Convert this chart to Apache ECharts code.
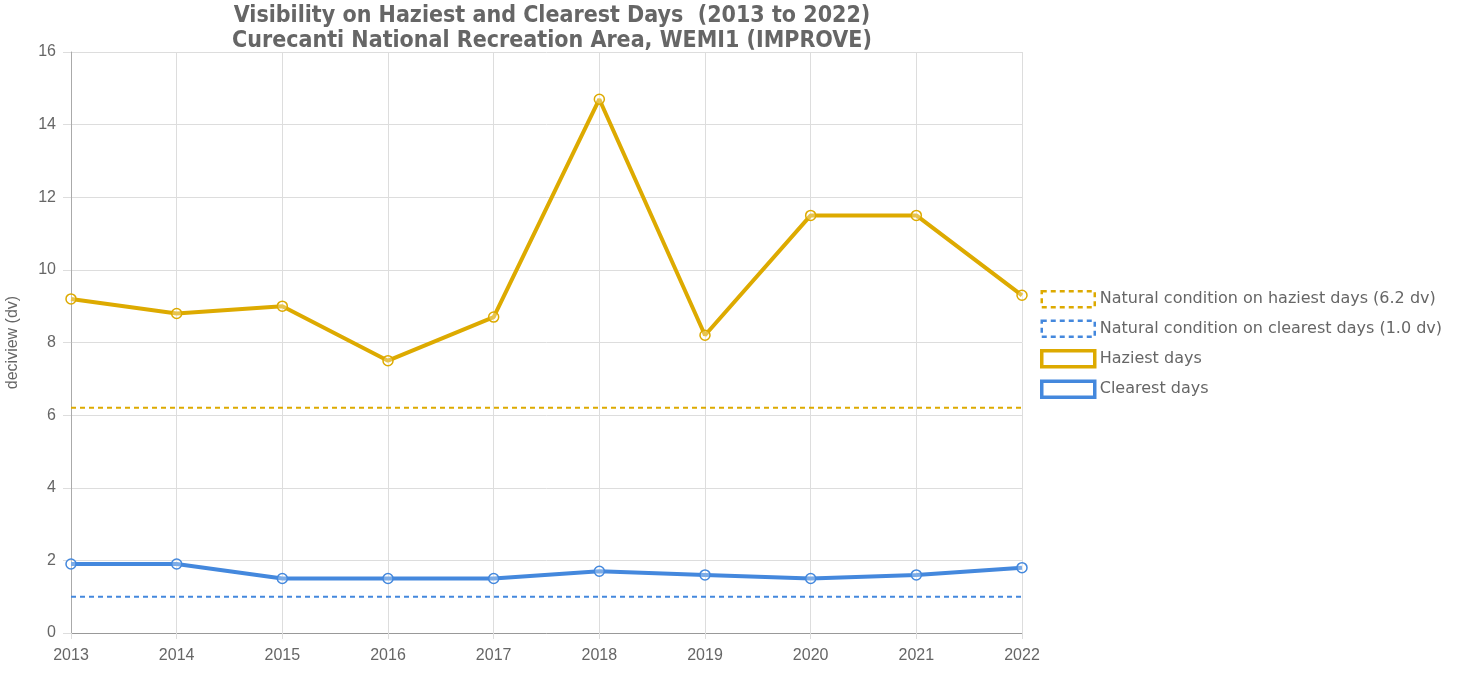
<!DOCTYPE html>
<html><head><meta charset="utf-8">
<script src="https://cdn.jsdelivr.net/npm/echarts@6/dist/echarts.min.js"></script>
<style>html,body{margin:0;padding:0;background:#fff}#c{width:1459px;height:675px}</style>
</head><body><div id="c"></div>
<script>
const years = ['2013','2014','2015','2016','2017','2018','2019','2020','2021','2022'];
const haziest = [9.2, 8.8, 9.0, 7.5, 8.7, 14.7, 8.2, 11.5, 11.5, 9.3];
const clearest = [1.9, 1.9, 1.5, 1.5, 1.5, 1.7, 1.6, 1.5, 1.6, 1.8];
const naturalHaziest = 6.2;
const naturalClearest = 1.0;
const yTicks = [0, 2, 4, 6, 8, 10, 12, 14, 16];

const gold = '#DDAA00';
const blue = '#4488DD';
const txt = '#666666';
const font = 'Liberation Sans, Arial, sans-serif';

const chart = echarts.init(document.getElementById('c'));
chart.setOption({
  animation: false,
  title: {
    text: 'Visibility on Haziest and Clearest Days  (2013 to 2022)\nCurecanti National Recreation Area, WEMI1 (IMPROVE)',
    left: 547, top: -1, textAlign: 'center',
    textStyle: { fontFamily: 'DejaVu Sans Condensed, Liberation Sans Narrow, sans-serif', fontWeight: 'bold', fontSize: 23, color: txt, lineHeight: 25 }
  },
  grid: { left: 71, right: 437, top: 52, bottom: 42, containLabel: false, outerBoundsMode: 'none' },
  legend: {
    orient: 'vertical', left: 1035, top: 285, itemGap: 11, itemWidth: 53, itemHeight: 16,
    textStyle: { fontFamily: 'DejaVu Sans, sans-serif', fontSize: 16, color: txt },
    data: [
      { name: 'Natural condition on haziest days (6.2 dv)', icon: 'rect', itemStyle: { color: '#fff', borderColor: gold, borderWidth: 2.5, borderType: [5, 4] } },
      { name: 'Natural condition on clearest days (1.0 dv)', icon: 'rect', itemStyle: { color: '#fff', borderColor: blue, borderWidth: 2.5, borderType: [5, 4] } },
      { name: 'Haziest days', icon: 'rect', itemStyle: { color: '#fff', borderColor: gold, borderWidth: 3.5 } },
      { name: 'Clearest days', icon: 'rect', itemStyle: { color: '#fff', borderColor: blue, borderWidth: 3.5 } }
    ]
  },
  xAxis: {
    type: 'category', data: years, boundaryGap: false,
    axisLine: { lineStyle: { color: '#999', width: 1 } },
    axisTick: { show: true, length: 6, lineStyle: { color: '#ddd' } },
    axisLabel: { fontFamily: font, fontSize: 16, color: txt, margin: 15 },
    splitLine: { show: true, lineStyle: { color: '#ddd' } }
  },
  yAxis: {
    type: 'value', min: yTicks[0], max: yTicks[yTicks.length - 1], interval: 2,
    name: 'deciview (dv)', nameLocation: 'middle', nameGap: 50, nameRotate: 90,
    nameTextStyle: { fontFamily: font, fontSize: 16, color: txt },
    axisLine: { show: true, lineStyle: { color: '#aaa' } },
    axisTick: { show: true, length: 8, lineStyle: { color: '#ddd' } },
    axisLabel: { fontFamily: font, fontSize: 16, color: txt, margin: 15 },
    splitLine: { show: true, lineStyle: { color: '#ddd' } }
  },
  series: [
    { name: 'Natural condition on haziest days (6.2 dv)', type: 'line', data: years.map(() => naturalHaziest), showSymbol: false, symbol: 'none',
      lineStyle: { color: gold, width: 2, type: [5, 4] }, itemStyle: { color: gold }, z: 2 },
    { name: 'Natural condition on clearest days (1.0 dv)', type: 'line', data: years.map(() => naturalClearest), showSymbol: false, symbol: 'none',
      lineStyle: { color: blue, width: 2, type: [5, 4] }, itemStyle: { color: blue }, z: 2 },
    { name: 'Haziest days', type: 'line', data: haziest, symbol: 'circle', symbolSize: 10,
      lineStyle: { color: gold, width: 4 }, itemStyle: { color: 'rgba(255,255,255,0.3)', borderColor: gold, borderWidth: 1.5 }, z: 3 },
    { name: 'Clearest days', type: 'line', data: clearest, symbol: 'circle', symbolSize: 10,
      lineStyle: { color: blue, width: 4 }, itemStyle: { color: 'rgba(255,255,255,0.3)', borderColor: blue, borderWidth: 1.5 }, z: 3 }
  ]
});
</script></body></html>
